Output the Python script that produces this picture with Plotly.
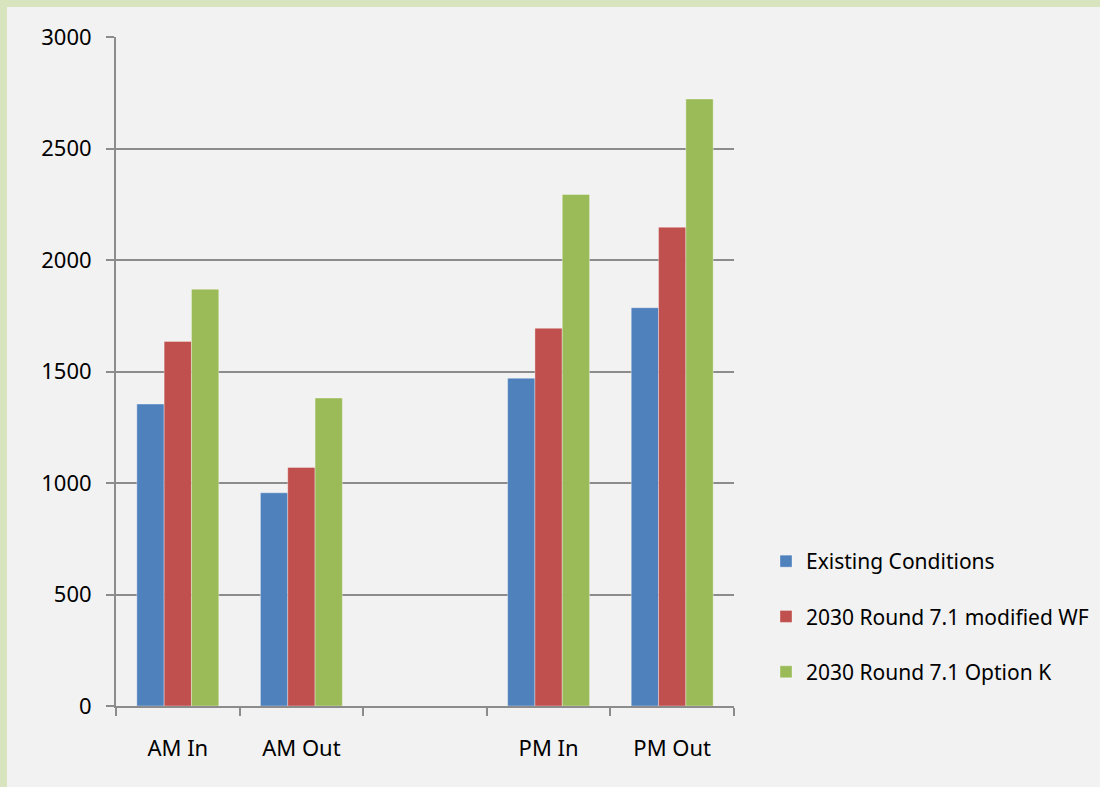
import plotly.graph_objects as go

# Peak-period volumes by direction (blank slot separates AM and PM)
categories = ["AM In", "AM Out", " ", "PM In", "PM Out"]
existing_conditions = [1354, 956, None, 1470, 1786]
round71_modified_wf = [1635, 1070, None, 1694, 2147]
round71_option_k = [1869, 1381, None, 2294, 2722]

series_names = [
    "Existing Conditions",
    "2030 Round 7.1 modified WF",
    "2030 Round 7.1 Option K",
]
series_values = [existing_conditions, round71_modified_wf, round71_option_k]
series_colors = ["#4f81bd", "#c0504d", "#9bbb59"]

W, H = 1100, 787
L, R, T, B = 116, 366, 37, 81
pw, ph = W - L - R, H - T - B

fig = go.Figure()
for name, vals, col in zip(series_names, series_values, series_colors):
    fig.add_trace(go.Bar(
        x=categories, y=vals, name=name, legendgroup=name,
        marker=dict(color=col, line=dict(color="rgba(255,255,255,0.35)", width=1)),
    ))

font = "Noto Sans, Open Sans, Liberation Sans, sans-serif"
grid = "#8c8c8c"

fig.update_layout(
    width=W, height=H,
    margin=dict(l=L, r=R, t=T, b=B, pad=0, autoexpand=False),
    paper_bgcolor="#f2f2f2",
    plot_bgcolor="#f2f2f2",
    barmode="group",
    bargap=0.337,
    bargroupgap=0,
    font=dict(family=font, size=22, color="#000000"),
    showlegend=True,
    legend=dict(
        x=(766 - L) / pw, xanchor="left",
        y=(706 - 541) / ph, yanchor="top",
        bgcolor="rgba(0,0,0,0)",
        font=dict(size=21),
        tracegroupgap=25,
        itemwidth=30,
    ),
    xaxis=dict(
        type="category",
        categoryorder="array", categoryarray=categories,
        tickson="boundaries",
        ticks="outside", ticklen=8, tickwidth=2, tickcolor=grid,
        showline=True, linecolor=grid, linewidth=2,
        showgrid=False,
        ticklabelstandoff=22,
        tickfont=dict(size=22),
    ),
    yaxis=dict(
        range=[0, 3000], dtick=500, tick0=0,
        ticks="outside", ticklen=8, tickwidth=2, tickcolor=grid,
        showline=True, linecolor=grid, linewidth=2,
        showgrid=True, gridcolor=grid, gridwidth=2,
        zeroline=False,
        ticklabelstandoff=10,
        tickfont=dict(size=22),
    ),
    shapes=[
        # light green frame strips along top and left edges
        dict(type="rect", xref="paper", yref="paper", layer="above",
             x0=(-30 - L) / pw, x1=(W + 30 - L) / pw,
             y0=1 + (T - 7) / ph, y1=1 + (T + 30) / ph,
             fillcolor="#d7e4bd", line=dict(width=0)),
        dict(type="rect", xref="paper", yref="paper", layer="above",
             x0=(-30 - L) / pw, x1=(7 - L) / pw,
             y0=-(B + 30) / ph, y1=1 + (T + 30) / ph,
             fillcolor="#d7e4bd", line=dict(width=0)),
    ],
)

fig.write_html("out.html", config={"displayModeBar": False})
